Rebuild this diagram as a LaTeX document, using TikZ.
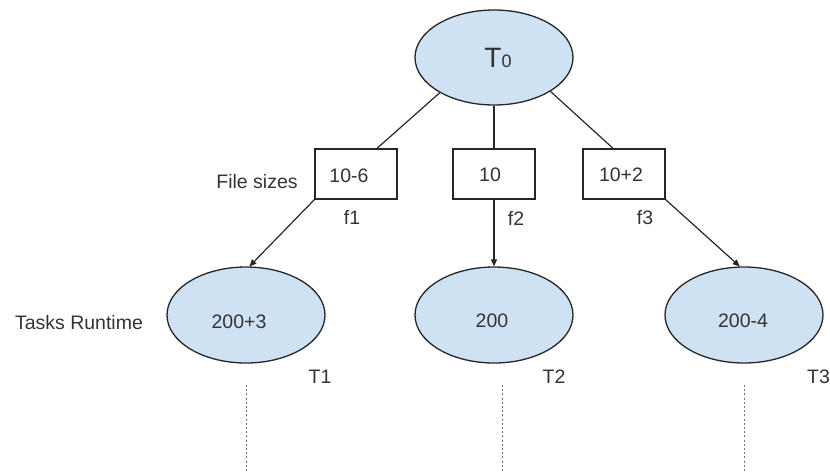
\documentclass[tikz,border=0pt]{standalone}
\usepackage{fontspec}
\setmainfont{Liberation Sans}
\usetikzlibrary{shapes.geometric,arrows.meta}
\definecolor{taskfill}{HTML}{CFE2F3}
\definecolor{ink}{HTML}{333333}
\begin{document}
\begin{tikzpicture}[x=1pt,y=-1pt,
  every node/.style={text=ink,font=\fontsize{19.5}{22}\selectfont},
  task/.style={ellipse,draw=black!85,line width=1.3pt,fill=taskfill,
               minimum width=158pt,minimum height=96pt,inner sep=0pt},
  filebox/.style={rectangle,draw=black!85,line width=1.3pt,fill=white,
                  minimum width=82pt,minimum height=50pt,inner sep=0pt},
  txt/.style={inner sep=0pt},
  link/.style={draw=black!85,line width=1.2pt},
  flow/.style={link,-{Triangle[length=7pt,width=6pt]}},
  timeline/.style={draw=black!55,line width=1pt,dash pattern=on 2pt off 2.2pt}]
\useasboundingbox (0,0) rectangle (830,472);

% root task
\node[task,minimum height=95pt] (t0) at (494,57.5) {};
\node[txt] (t0txt) at (498,58)
  {{\fontsize{28}{30}\selectfont T}{\fontsize{18}{20}\selectfont 0}};

% file size boxes
\node[filebox] (b1) at (356,174) {};
\node[filebox] (b2) at (494,174) {};
\node[filebox] (b3) at (624,174) {};
\node[txt] (b1txt) at (349,176) {10-6};
\node[txt] (b2txt) at (490,175) {10};
\node[txt] (b3txt) at (621,175) {10+2};

% child tasks
\node[task] (t1) at (246,315) {};
\node[task] (t2) at (494,315) {};
\node[task] (t3) at (744,315) {};
\node[txt] (t1txt) at (239,322) {200+3};
\node[txt] (t2txt) at (492,321) {200};
\node[txt] (t3txt) at (743,321) {200-4};

% row labels
\node[txt] (lfiles) at (257,182) {File sizes};
\node[txt] (lruntime) at (79,323) {Tasks Runtime};
\node[txt] (f1) at (352,217) {f1};
\node[txt] (f2) at (516,218) {f2};
\node[txt] (f3) at (645,218) {f3};
\node[txt] (n1) at (320,377) {T1};
\node[txt] (n2) at (554,377) {T2};
\node[txt,anchor=west] (n3) at (807,377) {T3};

% root to files
\draw[link] (t0.213) -- ([xshift=21pt]b1.north);
\draw[link] (t0.south) -- (b2.north);
\draw[link] (t0.329) -- ([xshift=-11pt]b3.north);

% files to tasks
\draw[flow] (b1.south west) -- (t1.86);
\draw[flow] (b2.south) -- (t2.north);
\draw[flow] (b3.south east) -- (t3.95);

% timelines below each task
\coordinate (d1a) at (246,385); \coordinate (d1b) at (246,472);
\coordinate (d2a) at (502,385); \coordinate (d2b) at (502,472);
\coordinate (d3a) at (744,385); \coordinate (d3b) at (744,472);
\draw[timeline] (d1a) -- (d1b);
\draw[timeline] (d2a) -- (d2b);
\draw[timeline] (d3a) -- (d3b);
\end{tikzpicture}
\end{document}
